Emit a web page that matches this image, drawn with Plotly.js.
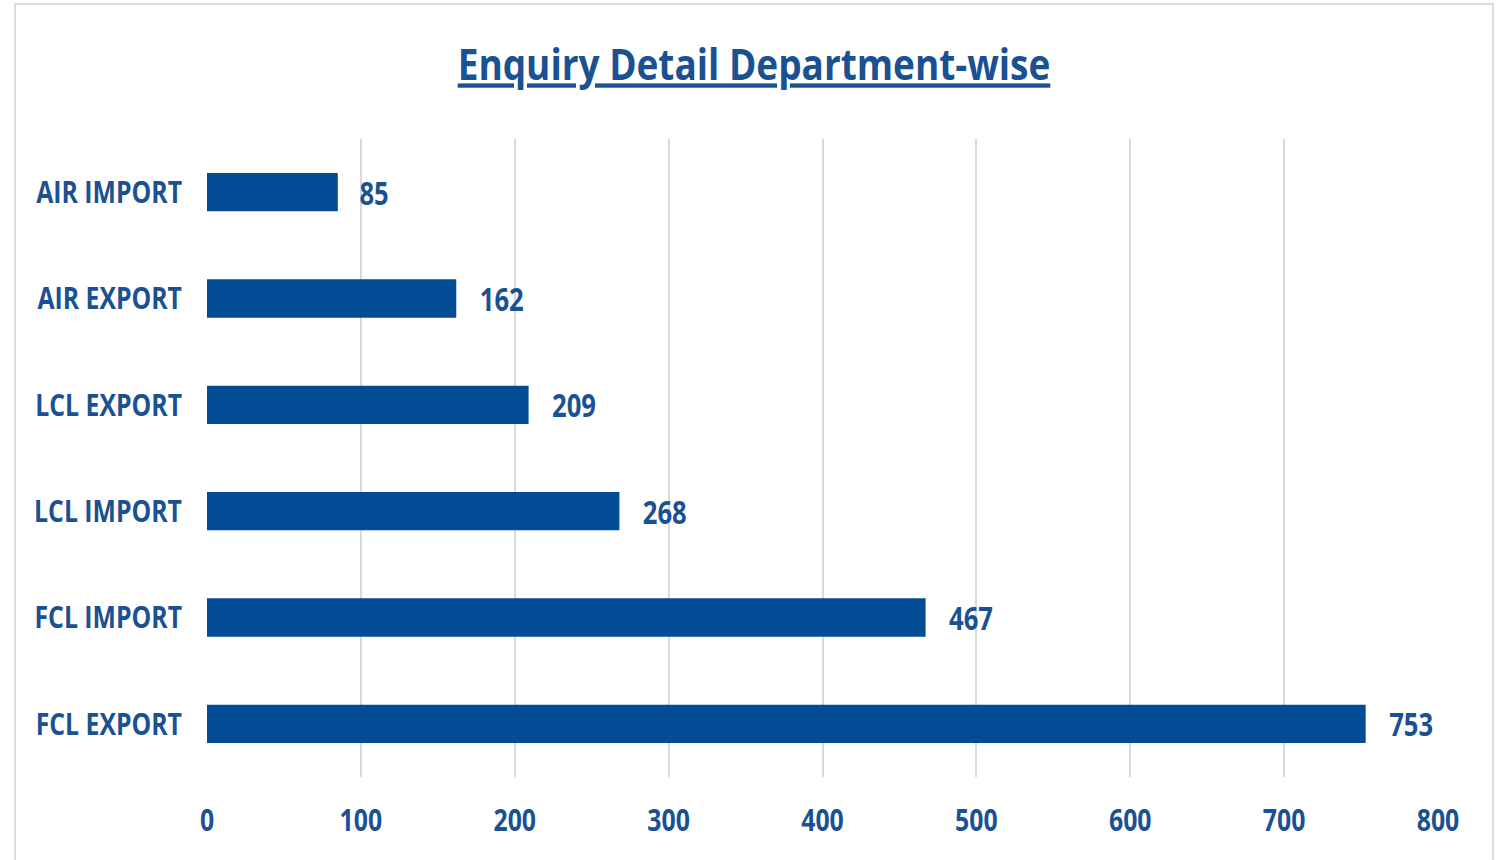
<!DOCTYPE html>
<html>
<head>
<meta charset="utf-8">
<script src="https://cdn.plot.ly/plotly-3.0.1.min.js"></script>
<style>
html,body{margin:0;padding:0;background:#fff;width:1502px;height:860px;overflow:hidden;}
#frame{position:absolute;left:14px;top:3px;width:1480px;height:870px;border:2px solid #dcdcdc;box-sizing:border-box;}
#chart{position:absolute;left:0;top:0;width:1502px;height:860px;}
</style>
</head>
<body>
<div id="frame"></div>
<div id="chart"></div>
<script>
const categories = ["AIR IMPORT", "AIR EXPORT", "LCL EXPORT", "LCL IMPORT", "FCL IMPORT", "FCL EXPORT"];
const enquiries = [85, 162, 209, 268, 467, 753];
const xTicks = [0, 100, 200, 300, 400, 500, 600, 700, 800];
const chartTitle = "Enquiry Detail Department-wise";

const FONT = '"Open Sans", "Liberation Sans", sans-serif';
const TEXT = '#1a5192';
const BAR = '#024c95';

const trace = {
  type: 'bar',
  orientation: 'h',
  y: categories,
  x: enquiries,
  marker: {color: BAR},
  text: enquiries.map(v => '\u00a0\u00a0' + v),
  textposition: 'outside',
  constraintext: 'none',
  textfont: {family: FONT, size: 32, color: TEXT, weight: 'bold'},
  cliponaxis: false,
  hoverinfo: 'none'
};

const layout = {
  width: 1502, height: 860,
  paper_bgcolor: 'rgba(0,0,0,0)',
  plot_bgcolor: 'rgba(0,0,0,0)',
  margin: {l: 207, r: 64, t: 139, b: 83},
  bargap: 0.64,
  showlegend: false,
  title: {
    text: '<u>' + chartTitle + '</u>',
    font: {family: FONT, size: 43, color: TEXT, weight: 'bold'},
    x: 0.502, xanchor: 'center', xref: 'container',
    y: 0.924, yanchor: 'middle', yref: 'container'
  },
  xaxis: {
    range: [0, 800],
    tickvals: xTicks,
    ticktext: xTicks.map(String),
    showgrid: true, gridcolor: '#d9d9d9', gridwidth: 2,
    zeroline: false, showline: false,
    ticks: '',
    ticklabelstandoff: 22,
    tickfont: {family: FONT, size: 31, color: TEXT, weight: 'bold'},
    fixedrange: true
  },
  yaxis: {
    type: 'category',
    categoryorder: 'array', categoryarray: categories,
    autorange: 'reversed',
    showgrid: false, zeroline: false, showline: false,
    ticks: '',
    ticklabelstandoff: 24,
    tickfont: {family: FONT, size: 31, color: TEXT, weight: 'bold'},
    fixedrange: true
  }
};

// Imitate the condensed face of the original by narrowing the glyphs of each text
function condense(selector, factor) {
  document.querySelectorAll(selector).forEach(t => {
    const len = t.getComputedTextLength();
    if (len > 0) {
      t.setAttribute('textLength', (len * factor).toFixed(2));
      t.setAttribute('lengthAdjust', 'spacingAndGlyphs');
    }
  });
}

Plotly.newPlot('chart', [trace], layout, {displayModeBar: false, staticPlot: true}).then(() => {
  condense('#chart .ytick text', 0.80);
  condense('#chart .xtick text', 0.80);
  condense('#chart text.bartext', 0.80);
  condense('#chart .gtitle', 0.86);
});
</script>
</body>
</html>
